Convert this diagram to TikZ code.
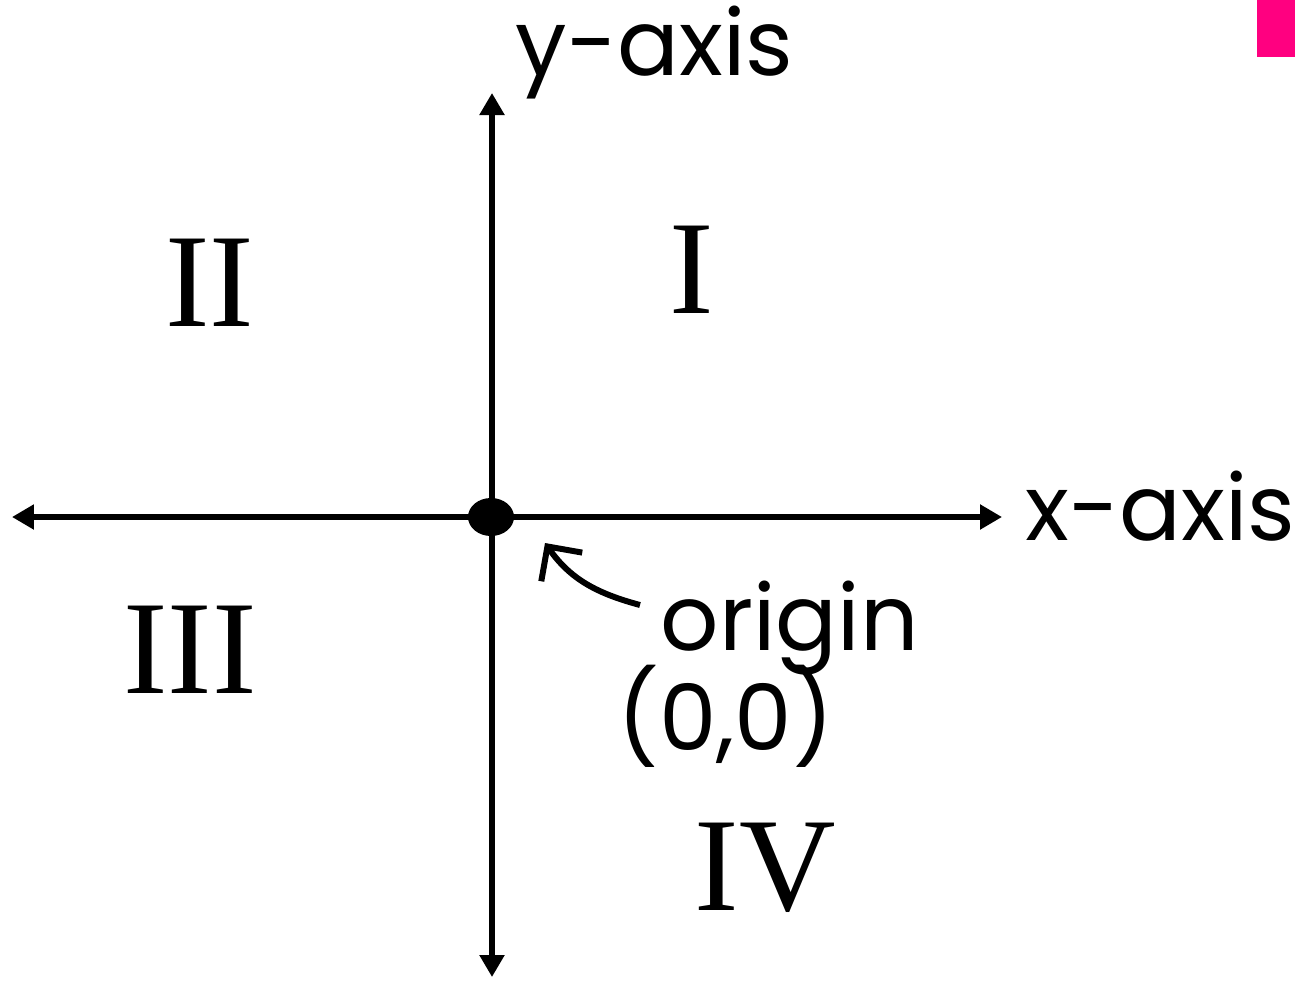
\documentclass[tikz,border=0pt]{standalone}
\usepackage{fontspec}
\setmainfont{Poppins}
\newfontfamily\numfont{Liberation Serif}
\usetikzlibrary{arrows.meta,shapes.geometric}
\definecolor{markpink}{HTML}{FF0080}
\begin{document}
\begin{tikzpicture}[scale=1.0,
  axis/.style={line width=1.5pt, {Triangle[length=2.2mm,width=2.4mm]}-{Triangle[length=2.2mm,width=2.4mm]}},
  lab/.style={font=\fontsize{26}{30}\selectfont, inner sep=0pt},
  numeral/.style={font=\numfont\fontsize{38}{42}\selectfont, inner sep=0pt}]
  \useasboundingbox (0,0) rectangle (13.1,9.8);
  % Corner mark
  \fill[markpink] (12.57,9.23) rectangle (12.95,9.8);
  % Axes
  \coordinate (west) at (0.12,4.63);
  \coordinate (east) at (10.02,4.63);
  \coordinate (south) at (4.92,0.03);
  \coordinate (north) at (4.92,8.87);
  \draw[axis] (west) -- (east);
  \draw[axis] (south) -- (north);
  \node[fill, ellipse, minimum width=0.46cm, minimum height=0.38cm, inner sep=0pt] (dot) at (4.91,4.63) {};
  \node[lab, anchor=base west] (ylab) at (5.15,9.05) {y-axis};
  \node[lab, anchor=base west] (xlab) at (10.25,4.40) {x-axis};
  % Quadrants
  \foreach \x/\y/\lab/\nm in {6.92/7.10/I/one, 2.10/6.97/II/two, 1.90/3.30/III/three, 7.65/1.12/IV/four}
    \node[numeral] (q\nm) at (\x,\y) {\lab};
  % Origin label
  \node[lab, anchor=base west] (orig) at (6.60,3.30) {origin};
  \node[lab, anchor=base west] (zero) at (6.17,2.30) {(0,0)};
  \coordinate (tail) at (6.40,3.75);
  \coordinate (tip) at (5.45,4.37);
  \draw[line width=1.7pt, -{Straight Barb[length=2.5mm,width=5mm]}] (tail) to[out=165,in=-55] (tip);
\end{tikzpicture}
\end{document}
